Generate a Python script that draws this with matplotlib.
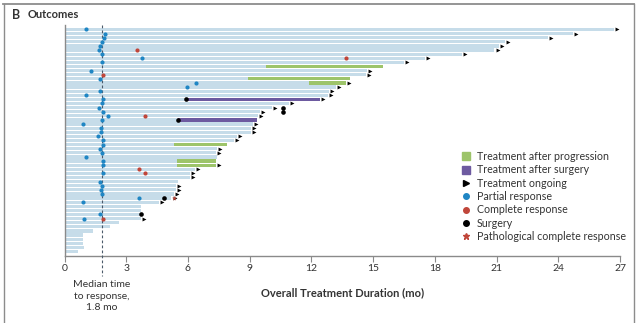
import matplotlib
matplotlib.use('Agg')
import matplotlib.pyplot as plt
from matplotlib.lines import Line2D

plt.rcParams['font.family'] = ['Lato', 'DejaVu Sans']

# ---------------- data (months) ----------------
duration = [26.7, 24.7, 23.5, 21.4, 21.1, 20.9, 19.3, 17.5, 16.5, 15.5,
            14.7, 14.65, 13.9, 13.7, 13.2, 12.85, 12.8, 12.4, 10.9, 10.1,
            9.5, 9.4, 9.35, 9.17, 9.07, 9.07, 8.4, 8.25, 7.9, 7.4,
            7.35, 7.4, 7.35, 7.35, 6.35, 6.1, 6.1, 5.5, 5.4, 5.4,
            5.3, 5.2, 4.6, 3.7, 3.7, 3.7, 3.7, 2.65, 2.2, 1.4,
            0.9, 0.9, 0.9, 0.95, 0.65]
ongoing = [1, 1, 1, 1, 1, 1, 1, 1, 1, 0,
           1, 1, 0, 1, 1, 1, 1, 1, 1, 1,
           1, 1, 0, 1, 1, 1, 1, 1, 0, 1,
           1, 0, 0, 1, 1, 1, 1, 0, 1, 1,
           1, 1, 1, 0, 0, 0, 1, 0, 0, 0,
           0, 0, 0, 0, 0]

# treatment after progression (patient row numbers, 1 = top)
prog_rows = [10, 13, 14, 29, 33, 34]
prog_start = [9.8, 8.9, 11.9, 5.3, 5.45, 5.45]
prog_end = [15.5, 13.9, 13.7, 7.9, 7.35, 7.35]

# treatment after surgery
surg_rows = [18, 23]
surg_start = [5.9, 5.5]
surg_end = [12.4, 9.35]

pr_rows = [1, 2, 3, 4, 5, 6, 7, 8, 9, 11, 13, 14, 15, 16, 17, 18, 19, 20, 21, 22,
           23, 24, 25, 26, 27, 28, 29, 30, 31, 32, 33, 34, 36, 38, 39, 40, 41, 42,
           43, 46, 47]
pr_times = [1.05, 1.95, 1.9, 1.8, 1.73, 1.68, 1.8, 3.75, 1.8, 1.3, 1.73, 6.4, 5.95,
            1.73, 1.05, 1.85, 1.8, 1.7, 1.85, 2.1, 1.8, 0.9, 1.78, 1.78, 1.63, 1.85,
            1.85, 1.73, 1.8, 1.05, 1.85, 1.85, 1.85, 1.73, 1.8, 1.78, 1.8, 3.6,
            0.9, 1.73, 0.95]

cr_rows = [6, 8, 12, 22, 35, 36, 47]
cr_times = [3.5, 13.7, 1.85, 3.9, 3.6, 3.9, 1.87]

surgery_rows = [18, 20, 21, 23, 42, 46]
surgery_times = [5.9, 10.6, 10.6, 5.5, 4.85, 3.7]

pcr_rows = [42]
pcr_times = [5.3]

median_response = 1.8
xticks = [0, 3, 6, 9, 12, 15, 18, 21, 24, 27]

# ---------------- colours ----------------
BAR = '#c6dce9'
GREEN = '#9dc46a'
PURPLE = '#6d5aa0'
BLUE = '#1f86c4'
RED = '#c0463a'
TXT = '#333333'
GRID = '#8a8a8a'

fig = plt.figure(figsize=(6.4, 3.23), dpi=100)
W, H = 640, 323
ax = fig.add_axes([64.5 / W, (H - 256) / H, (620 - 64.5) / W, (256 - 25) / H])

n = len(duration)
ypos = list(range(n))
bh = 0.78
ax.barh(ypos, duration, height=bh, color=BAR, edgecolor='none', zorder=1)

pr_y = [r - 1 for r in prog_rows]
ax.barh(pr_y, [e - s for s, e in zip(prog_start, prog_end)], left=prog_start,
        height=bh, color=GREEN, edgecolor='none', zorder=2)
su_y = [r - 1 for r in surg_rows]
ax.barh(su_y, [e - s for s, e in zip(surg_start, surg_end)], left=surg_start,
        height=bh, color=PURPLE, edgecolor='none', zorder=2)

og_x = [d + 0.15 for d, o in zip(duration, ongoing) if o]
og_y = [i for i, o in enumerate(ongoing) if o]
ax.scatter(og_x, og_y, marker='>', s=8, color='black', zorder=4, linewidths=0)

ax.scatter(pr_times, [r - 1 for r in pr_rows], s=9, color=BLUE, zorder=5, linewidths=0)
ax.scatter(cr_times, [r - 1 for r in cr_rows], s=9, color=RED, zorder=5, linewidths=0)
ax.scatter(surgery_times, [r - 1 for r in surgery_rows], s=11, color='black', zorder=5, linewidths=0)
ax.scatter(pcr_times, [r - 1 for r in pcr_rows], s=14, marker='*', color=RED, zorder=6, linewidths=0)

# median line
ax.plot([median_response, median_response], [-1.1, 60.0], ls=(0, (2.5, 2)), lw=0.8,
        color='#4a5a6a', clip_on=False, zorder=3)

ax.set_xlim(0, 27)
ax.set_ylim(55.1, -1.09)
ax.set_xticks(xticks)
ax.set_xticklabels([str(t) for t in xticks])
ax.set_yticks([])
ax.tick_params(axis='x', direction='out', length=4, width=0.8, color=GRID,
               labelsize=7.5, labelcolor=TXT, pad=2)
for s in ['top', 'right']:
    ax.spines[s].set_visible(False)
ax.spines['bottom'].set_color(GRID)
ax.spines['bottom'].set_linewidth(1.0)
ax.spines['left'].set_color(GRID)
ax.spines['left'].set_linewidth(1.0)

ax.text(median_response, 61.0, 'Median time\nto response,\n1.8 mo', ha='center', va='top',
        fontsize=7.5, color=TXT, linespacing=1.35)
fig.text(342.5 / W, 1 - 293 / H, 'Overall Treatment Duration (mo)', ha='center', va='center',
         fontsize=8, fontweight='bold', color=TXT)

# title
fig.text(12 / W, 1 - 15 / H, 'B', ha='left', va='center', fontsize=9, fontweight='bold', color=TXT)
fig.text(28 / W, 1 - 15 / H, 'Outcomes', ha='left', va='center', fontsize=8, fontweight='bold', color=TXT)

# frame
fig.add_artist(Line2D([3 / W, 634 / W], [1 - 3.5 / H, 1 - 3.5 / H], color='#8c8c8c', lw=1.3))
fig.add_artist(Line2D([3.5 / W, 3.5 / W], [1 - 3.5 / H, 0], color='#8c8c8c', lw=1.0))
fig.add_artist(Line2D([634 / W, 634 / W], [1 - 3.5 / H, 0], color='#8c8c8c', lw=1.0))

handles = [
    Line2D([], [], marker='s', ls='none', color=GREEN, markersize=6),
    Line2D([], [], marker='s', ls='none', color=PURPLE, markersize=6),
    Line2D([], [], marker='>', ls='none', color='black', markersize=4),
    Line2D([], [], marker='o', ls='none', color=BLUE, markersize=4),
    Line2D([], [], marker='o', ls='none', color=RED, markersize=4),
    Line2D([], [], marker='o', ls='none', color='black', markersize=4),
    Line2D([], [], marker='*', ls='none', color=RED, markersize=5),
]
labels = ['Treatment after progression', 'Treatment after surgery', 'Treatment ongoing',
          'Partial response', 'Complete response', 'Surgery', 'Pathological complete response']
leg = fig.legend(handles, labels, loc='upper left', bbox_to_anchor=(462 / W, 1 - 151 / H),
                 frameon=False, fontsize=7.7, handlelength=0.8, handletextpad=0.6,
                 labelspacing=0.22, borderpad=0, borderaxespad=0)
for t in leg.get_texts():
    t.set_color(TXT)

fig.savefig('out.png', dpi=100)
